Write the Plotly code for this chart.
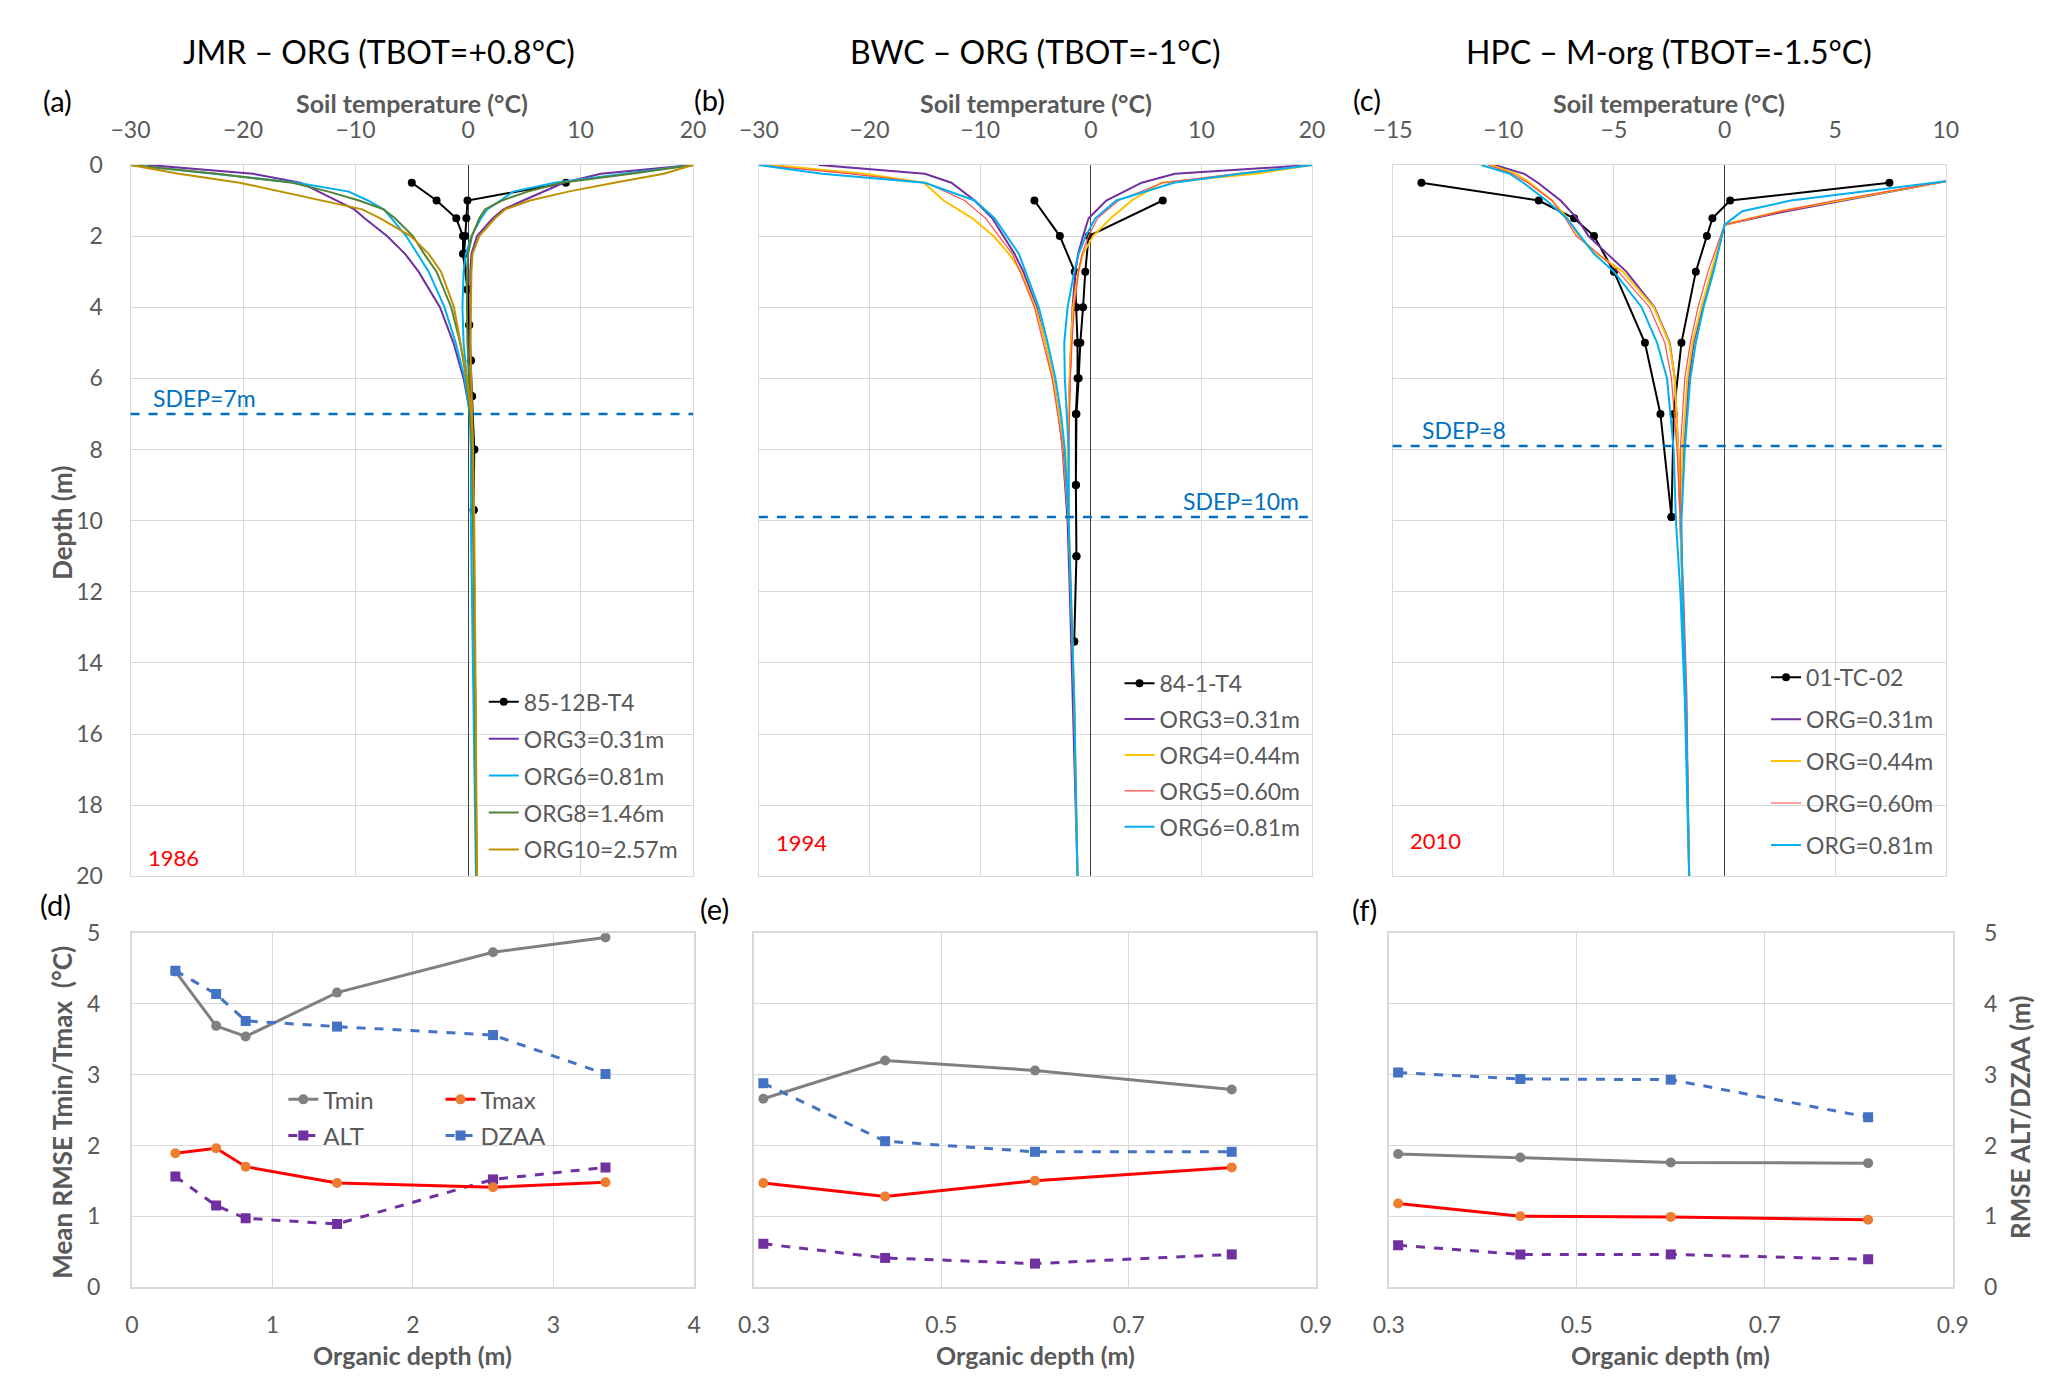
import plotly.graph_objects as go

# ------------------------------------------------------------------ data
# (a) JMR
A_DEPTH = [0, 0.25, 0.5, 0.75, 1.0, 1.25, 1.5, 2.0, 2.5, 3.0, 4.0, 5.0, 6.0, 7.0, 8.0, 10.0, 12.0, 15.0, 20.0]
A_ORG3_TMIN = [-28.5, -19.1, -14.9, -13.3, -11.7, -10.1, -9.2, -7.2, -5.6, -4.4, -2.5, -1.3, -0.4, 0.2, 0.35, 0.5, 0.55, 0.65, 0.75]
A_ORG3_TMAX = [20, 11.8, 8.5, 6.7, 4.9, 3.15, 2.2, 0.8, 0.3, 0.2, 0.2, 0.2, 0.2, 0.3, 0.35, 0.5, 0.55, 0.65, 0.75]
A_ORG6_TMIN = [-30, -22.5, -15.2, -10.6, -8.9, -7.5, -6.8, -5.5, -4.5, -3.5, -2.1, -1.1, -0.3, 0.15, 0.25, 0.25, 0.35, 0.5, 0.7]
A_ORG6_TMAX = [20, 14.1, 7.7, 4.0, 2.9, 1.7, 1.15, 0.3, -0.2, -0.4, -0.5, -0.4, -0.1, 0.15, 0.25, 0.25, 0.35, 0.5, 0.7]
A_ORG8_TMIN = [-30, -22.3, -15.6, -12.4, -9.7, -7.5, -6.5, -4.9, -3.9, -2.8, -1.5, -0.7, -0.15, 0.2, 0.35, 0.45, 0.55, 0.65, 0.75]
A_ORG8_TMAX = [20, 14.5, 8.3, 5.3, 3.0, 1.5, 1.0, 0.35, 0.0, -0.1, -0.1, -0.05, 0.05, 0.2, 0.35, 0.45, 0.55, 0.65, 0.75]
A_ORG10_TMIN = [-30, -25.7, -20.3, -16.7, -12.9, -9.4, -7.8, -5.1, -3.5, -2.4, -1.25, -0.7, -0.1, 0.3, 0.45, 0.55, 0.6, 0.7, 0.8]
A_ORG10_TMAX = [20, 17.4, 13.0, 8.9, 5.5, 3.3, 2.4, 1.0, 0.4, 0.3, 0.25, 0.2, 0.3, 0.35, 0.45, 0.55, 0.6, 0.7, 0.8]
A_OBS_DEPTH = [0.5, 1.0, 1.5, 2.0, 2.5, 3.5, 4.5, 5.5, 6.5, 8.0, 9.7]
A_OBS_TMIN = [-5.0, -2.8, -1.05, -0.45, -0.45, -0.05, 0.1, 0.25, 0.35, 0.55, 0.5]
A_OBS_TMAX = [8.7, -0.05, -0.15, -0.25, -0.35, -0.05, 0.1, 0.25, 0.35, 0.55, 0.5]

# (b) BWC
B_DEPTH = [0, 0.25, 0.5, 1.0, 1.5, 2.0, 2.5, 3.0, 4.0, 5.0, 6.0, 7.0, 8.0, 10.0, 12.0, 15.0, 20.0]
B_ORG3_TMIN = [-24.6, -15.0, -12.6, -10.5, -8.9, -7.9, -6.9, -6.1, -4.9, -4.1, -3.4, -2.9, -2.55, -2.1, -1.9, -1.6, -1.2]
B_ORG3_TMAX = [20, 7.6, 4.6, 1.4, -0.2, -0.7, -1.15, -1.4, -1.65, -1.8, -1.9, -2.0, -2.05, -2.1, -1.9, -1.6, -1.2]
B_ORG4_TMIN = [-28.9, -20.5, -15.1, -13.3, -10.7, -8.8, -7.4, -6.3, -5.0, -4.1, -3.4, -2.9, -2.5, -2.0, -1.8, -1.5, -1.2]
B_ORG4_TMAX = [20, 14.9, 6.4, 3.7, 1.8, 0.2, -0.7, -1.15, -1.6, -1.8, -1.95, -2.0, -2.1, -2.0, -1.8, -1.5, -1.2]
B_ORG5_TMIN = [-30, -21.7, -14.9, -11.4, -9.5, -8.3, -7.1, -6.4, -5.1, -4.3, -3.5, -3.0, -2.5, -2.0, -1.8, -1.5, -1.2]
B_ORG5_TMAX = [20, 13.0, 6.5, 2.5, 0.6, -0.2, -0.8, -1.1, -1.5, -1.7, -1.85, -1.95, -2.0, -2.0, -1.8, -1.5, -1.2]
B_ORG6_TMIN = [-30, -24.3, -15.0, -10.5, -8.7, -7.6, -6.5, -5.9, -4.7, -3.9, -3.2, -2.7, -2.35, -2.0, -1.8, -1.5, -1.2]
B_ORG6_TMAX = [20, 13.5, 7.5, 2.3, 0.4, -0.46, -1.1, -1.5, -2.1, -2.4, -2.35, -2.2, -2.0, -2.0, -1.8, -1.5, -1.2]
B_OBS_DEPTH = [1, 2, 3, 4, 5, 6, 7, 9, 11, 13.4]
B_OBS_TMIN = [-5.1, -2.8, -1.45, -1.3, -1.2, -1.2, -1.35, -1.35, -1.3, -1.5]
B_OBS_TMAX = [6.5, -0.2, -0.5, -0.7, -0.95, -1.1, -1.3, -1.35, -1.3, -1.5]

# (c) HPC
C_DEPTH_MIN = [0, 0.25, 0.5, 1.0, 1.5, 2.0, 2.5, 3.0, 4.0, 5.0, 6.0, 8.0, 10.0, 12.0, 15.0, 20.0]
C_DEPTH_MAX = [0.46, 1.0, 1.3, 1.68, 2.0, 3.0, 4.0, 5.0, 6.0, 8.0, 10.0, 12.0, 15.0, 20.0]
C_ORG31_TMIN = [-10.4, -9.05, -8.44, -7.41, -6.67, -6.15, -5.3, -4.44, -3.17, -2.48, -2.25, -2.1, -2.0, -1.9, -1.75, -1.6]
C_ORG31_TMAX = [10, 5.4, 2.8, 0, -0.15, -0.55, -1.0, -1.4, -1.62, -1.85, -2.0, -1.9, -1.75, -1.6]
C_ORG44_TMIN = [-10.6, -9.4, -8.8, -7.8, -7.1, -6.6, -5.76, -4.6, -3.2, -2.5, -2.25, -2.1, -2.0, -1.9, -1.75, -1.6]
C_ORG44_TMAX = [10, 5.2, 2.5, 0, -0.15, -0.6, -1.05, -1.45, -1.68, -1.9, -2.0, -1.9, -1.75, -1.6]
C_ORG60_TMIN = [-10.7, -9.6, -8.9, -7.8, -7.2, -6.7, -5.7, -4.8, -3.4, -2.7, -2.4, -2.15, -2.0, -1.85, -1.7, -1.6]
C_ORG60_TMAX = [10, 5.0, 2.6, 0, -0.2, -0.75, -1.2, -1.55, -1.8, -2.0, -2.0, -1.85, -1.7, -1.6]
C_ORG81_TMIN = [-11.0, -9.7, -9.1, -8.05, -7.13, -6.5, -5.9, -5.0, -3.75, -3.05, -2.6, -2.3, -2.2, -2.0, -1.8, -1.6]
C_ORG81_TMAX = [10, 3.0, 0.8, 0, -0.1, -0.5, -0.95, -1.3, -1.55, -1.8, -1.95, -1.9, -1.75, -1.6]
C_OBS_DEPTH = [0.5, 1.0, 1.5, 2.0, 3.0, 5.0, 7.0, 9.9]
C_OBS_TMIN = [-13.7, -8.4, -6.8, -5.9, -5.0, -3.6, -2.9, -2.4]
C_OBS_TMAX = [7.45, 0.25, -0.55, -0.8, -1.3, -1.95, -2.3, -2.4]

SDEP = [7, 9.9, 7.9]
SDEP_LABELS = ["SDEP=7m", "SDEP=10m", "SDEP=8"]
YEARS = ["1986", "1994", "2010"]
TITLES = ["JMR \u2013 ORG (TBOT=+0.8\u00b0C)", "BWC \u2013 ORG (TBOT=-1\u00b0C)", "HPC \u2013 M-org (TBOT=-1.5\u00b0C)"]
TEMP_RANGES = [[-30, 20], [-30, 20], [-15, 10]]
TEMP_DTICK = [10, 10, 5]

# (d)-(f) RMSE
D_ORG = [0.31, 0.60, 0.81, 1.46, 2.57, 3.37]
D_TMIN = [4.46, 3.69, 3.54, 4.16, 4.73, 4.94]
D_TMAX = [1.89, 1.96, 1.70, 1.47, 1.41, 1.48]
D_ALT = [1.56, 1.15, 0.97, 0.89, 1.52, 1.69]
D_DZAA = [4.47, 4.14, 3.76, 3.68, 3.56, 3.01]
E_ORG = [0.31, 0.44, 0.60, 0.81]
E_TMIN = [2.66, 3.20, 3.06, 2.79]
E_TMAX = [1.47, 1.28, 1.50, 1.69]
E_ALT = [0.61, 0.41, 0.33, 0.46]
E_DZAA = [2.88, 2.06, 1.91, 1.91]
F_ORG = [0.31, 0.44, 0.60, 0.81]
F_TMIN = [1.88, 1.83, 1.76, 1.75]
F_TMAX = [1.18, 1.00, 0.99, 0.95]
F_ALT = [0.59, 0.46, 0.46, 0.39]
F_DZAA = [3.03, 2.94, 2.93, 2.40]

# ------------------------------------------------------------------ style
FONT = "Lato"
GREY = "#595959"
GRID = "#D9D9D9"
PURPLE = "#7030A0"
CYAN = "#00B0F0"
GREEN = "#548235"
GOLD = "#BF9000"
YELLOW = "#FFC000"
RED = "#FF4B4B"
W, H = 2067, 1395

TOP_X = [[112.5, 685], [752, 1315], [1397, 1960]]
TOP_Y = [153, 879]
BOT_X = [[113.8, 686], [747, 1319], [1393, 1967]]
BOT_Y = [937, 1298]


def px_dom(a, b, total):
    return [a / total, b / total]


def py_dom(top, bot):
    return [1 - bot / H, 1 - top / H]


fig = go.Figure()


def profile(tmin, dmin, tmax, dmax, name, color, width, k, legend, marker=False):
    x = list(tmin) + list(tmax)[::-1]
    y = list(dmin) + list(dmax)[::-1]
    sfx = "" if k == 1 else str(k)
    fig.add_trace(go.Scatter(
        x=x, y=y, name=name, mode="lines+markers" if marker else "lines",
        line=dict(color=color, width=width),
        marker=dict(size=8, color=color) if marker else None,
        xaxis="x" + sfx, yaxis="y" + sfx, legend=legend, legendgroup=name + sfx,
    ))


# (a)
profile(A_OBS_TMIN, A_OBS_DEPTH, A_OBS_TMAX, A_OBS_DEPTH, "85-12B-T4", "black", 2, 1, "legend", True)
profile(A_ORG3_TMIN, A_DEPTH, A_ORG3_TMAX, A_DEPTH, "ORG3=0.31m", PURPLE, 2, 1, "legend")
profile(A_ORG6_TMIN, A_DEPTH, A_ORG6_TMAX, A_DEPTH, "ORG6=0.81m", CYAN, 2, 1, "legend")
profile(A_ORG8_TMIN, A_DEPTH, A_ORG8_TMAX, A_DEPTH, "ORG8=1.46m", GREEN, 2, 1, "legend")
profile(A_ORG10_TMIN, A_DEPTH, A_ORG10_TMAX, A_DEPTH, "ORG10=2.57m", GOLD, 2, 1, "legend")
# (b)
profile(B_OBS_TMIN, B_OBS_DEPTH, B_OBS_TMAX, B_OBS_DEPTH, "84-1-T4", "black", 2, 2, "legend2", True)
profile(B_ORG3_TMIN, B_DEPTH, B_ORG3_TMAX, B_DEPTH, "ORG3=0.31m", PURPLE, 2, 2, "legend2")
profile(B_ORG4_TMIN, B_DEPTH, B_ORG4_TMAX, B_DEPTH, "ORG4=0.44m", YELLOW, 2, 2, "legend2")
profile(B_ORG5_TMIN, B_DEPTH, B_ORG5_TMAX, B_DEPTH, "ORG5=0.60m", RED, 1.2, 2, "legend2")
profile(B_ORG6_TMIN, B_DEPTH, B_ORG6_TMAX, B_DEPTH, "ORG6=0.81m", CYAN, 2, 2, "legend2")
# (c)
profile(C_OBS_TMIN, C_OBS_DEPTH, C_OBS_TMAX, C_OBS_DEPTH, "01-TC-02", "black", 2, 3, "legend3", True)
profile(C_ORG31_TMIN, C_DEPTH_MIN, C_ORG31_TMAX, C_DEPTH_MAX, "ORG=0.31m", PURPLE, 2, 3, "legend3")
profile(C_ORG44_TMIN, C_DEPTH_MIN, C_ORG44_TMAX, C_DEPTH_MAX, "ORG=0.44m", YELLOW, 2, 3, "legend3")
profile(C_ORG60_TMIN, C_DEPTH_MIN, C_ORG60_TMAX, C_DEPTH_MAX, "ORG=0.60m", RED, 1.2, 3, "legend3")
profile(C_ORG81_TMIN, C_DEPTH_MIN, C_ORG81_TMAX, C_DEPTH_MAX, "ORG=0.81m", CYAN, 2, 3, "legend3")

# RMSE panels
RMSE_SETS = [
    (D_ORG, D_TMIN, D_TMAX, D_ALT, D_DZAA, 4),
    (E_ORG, E_TMIN, E_TMAX, E_ALT, E_DZAA, 5),
    (F_ORG, F_TMIN, F_TMAX, F_ALT, F_DZAA, 6),
]
for org, tmin, tmax, alt, dzaa, k in RMSE_SETS:
    show = k == 4
    common = dict(xaxis="x%d" % k, yaxis="y%d" % k, mode="lines+markers", showlegend=show)
    fig.add_trace(go.Scatter(x=org, y=tmin, name="Tmin", legend="legend4", legendgroup="tmin",
                             line=dict(color="#808080", width=3), marker=dict(symbol="circle", size=10, color="#808080"), **common))
    fig.add_trace(go.Scatter(x=org, y=alt, name="ALT", legend="legend4", legendgroup="alt",
                             line=dict(color=PURPLE, width=3, dash="dash"), marker=dict(symbol="square", size=10, color=PURPLE), **common))
    fig.add_trace(go.Scatter(x=org, y=tmax, name="Tmax", legend="legend5", legendgroup="tmax",
                             line=dict(color="#FF0000", width=3), marker=dict(symbol="circle", size=10, color="#ED7D31"), **common))
    fig.add_trace(go.Scatter(x=org, y=dzaa, name="DZAA", legend="legend5", legendgroup="dzaa",
                             line=dict(color="#4472C4", width=3, dash="dash"), marker=dict(symbol="square", size=10, color="#4472C4"), **common))

# ------------------------------------------------------------------ layout
tick_font = dict(family=FONT, size=23, color=GREY)
layout = dict(
    width=W, height=H, margin=dict(l=0, r=0, t=0, b=0),
    paper_bgcolor="white", plot_bgcolor="white",
    font=dict(family=FONT, color=GREY),
)
ann = []
shapes = []


def text_ann(text, x, y, size, color, bold=False, angle=0, xanchor="center"):
    ann.append(dict(text="<b>%s</b>" % text if bold else text, xref="paper", x=x / W, xanchor=xanchor,
                    yref="paper", y=1 - y / H, yanchor="middle", showarrow=False, textangle=angle,
                    font=dict(family=FONT, size=size, color=color)))


TITLE_CX = [365, 1033, 1678]
for i in range(3):
    k = i + 1
    sfx = "" if k == 1 else str(k)
    layout["xaxis" + sfx] = dict(
        domain=px_dom(*TOP_X[i], W), anchor="y" + sfx, side="top",
        range=TEMP_RANGES[i], dtick=TEMP_DTICK[i], showgrid=True, gridcolor=GRID, gridwidth=1,
        showline=True, mirror=True, linecolor=GRID, linewidth=1,
        zeroline=True, zerolinecolor="#404040", zerolinewidth=1.3,
        ticks="", tickfont=tick_font, ticklabelstandoff=17,
    )
    layout["yaxis" + sfx] = dict(
        domain=py_dom(*TOP_Y), anchor="x" + sfx, range=[20, 0], dtick=2,
        showgrid=True, gridcolor=GRID, gridwidth=1, zeroline=False,
        showline=True, mirror=True, linecolor=GRID, linewidth=1,
        ticks="", tickfont=tick_font, ticklabelstandoff=22, showticklabels=(k == 1),
    )
    shapes.append(dict(type="line", xref="x%s domain" % sfx, x0=0, x1=1, yref="y" + sfx,
                       y0=SDEP[i], y1=SDEP[i], line=dict(color="#0070C0", width=2.5, dash="dash")))
    if i == 1:
        ann.append(dict(text=SDEP_LABELS[i], xref="x%s domain" % sfx, x=0.98, xanchor="right",
                        yref="y" + sfx, y=SDEP[i], yanchor="bottom", showarrow=False,
                        font=dict(family=FONT, size=23, color="#0070C0")))
    else:
        ann.append(dict(text=SDEP_LABELS[i], xref="x%s domain" % sfx, x=[0.036, 0, 0.05][i], xanchor="left",
                        yref="y" + sfx, y=SDEP[i], yanchor="bottom", showarrow=False,
                        font=dict(family=FONT, size=23, color="#0070C0")))
    ann.append(dict(text=YEARS[i], xref="x%s domain" % sfx, x=0.028, xanchor="left",
                    yref="y%s domain" % sfx, y=[0.026, 0.047, 0.051][i], yanchor="middle", showarrow=False,
                    font=dict(family=FONT, size=22, color="#FF0000")))
    text_ann(TITLES[i], TITLE_CX[i], 37, 32, "black")
    text_ann("Soil temperature (\u00b0C)", (TOP_X[i][0] + TOP_X[i][1]) / 2, 90, 25, GREY, bold=True)

for i in range(3):
    k = i + 4
    if i == 0:
        xr, xd, xf = [0, 4], 1, None
    else:
        xr, xd, xf = [0.3, 0.9], 0.2, ".1f"
    layout["xaxis%d" % k] = dict(
        domain=px_dom(*BOT_X[i], W), anchor="y%d" % k, range=xr, dtick=xd, tick0=0 if i == 0 else 0.3,
        tickformat=xf, showgrid=True, gridcolor=GRID, zeroline=False,
        showline=True, mirror=True, linecolor=GRID, linewidth=1.5,
        ticks="", tickfont=tick_font, ticklabelstandoff=17,
    )
    layout["yaxis%d" % k] = dict(
        domain=py_dom(*BOT_Y), anchor="x%d" % k, range=[0, 5], dtick=1,
        side="right" if i == 2 else "left",
        showgrid=True, gridcolor=GRID, zeroline=False,
        showline=True, mirror=True, linecolor=GRID, linewidth=1.5,
        ticks="", tickfont=tick_font, ticklabelstandoff=25, showticklabels=(i != 1),
    )
    text_ann("Organic depth (m)", (BOT_X[i][0] + BOT_X[i][1]) / 2, 1367, 25, GREY, bold=True)

text_ann("Depth (m)", 42, 518, 26, GREY, bold=True, angle=-90)
text_ann("Mean RMSE Tmin/Tmax  (\u00b0C)", 42, 1120, 26, GREY, bold=True, angle=-90)
text_ann("RMSE ALT/DZAA (m)", 2036, 1125, 26, GREY, bold=True, angle=-90)

legend_common = dict(bgcolor="rgba(0,0,0,0)", xanchor="left", yanchor="top", itemwidth=30, orientation="v")
top_legend_font = dict(family=FONT, size=23, color=GREY)
bot_legend_font = dict(family=FONT, size=24, color=GREY)
layout["legend"] = dict(x=472 / W, y=1 - 679 / H, tracegroupgap=4, font=top_legend_font, **legend_common)
layout["legend2"] = dict(x=1119 / W, y=1 - 660 / H, tracegroupgap=3, font=top_legend_font, **legend_common)
layout["legend3"] = dict(x=1777 / W, y=1 - 654 / H, tracegroupgap=9, font=top_legend_font, **legend_common)
layout["legend4"] = dict(x=268 / W, y=1 - 1084 / H, tracegroupgap=2, font=bot_legend_font, **legend_common)
layout["legend5"] = dict(x=428 / W, y=1 - 1084 / H, tracegroupgap=2, font=bot_legend_font, **legend_common)

for lab, x, y in [("(a)", 38, 87), ("(b)", 702, 86), ("(c)", 1371, 86),
                  ("(d)", 36, 908), ("(e)", 707, 912), ("(f)", 1368, 913)]:
    text_ann(lab, x, y, 29, "black")

layout["annotations"] = ann
layout["shapes"] = shapes
fig.update_layout(**layout)
fig.write_html("out.html", config={"displayModeBar": False},
               post_script="document.body.style.margin='0px';")
